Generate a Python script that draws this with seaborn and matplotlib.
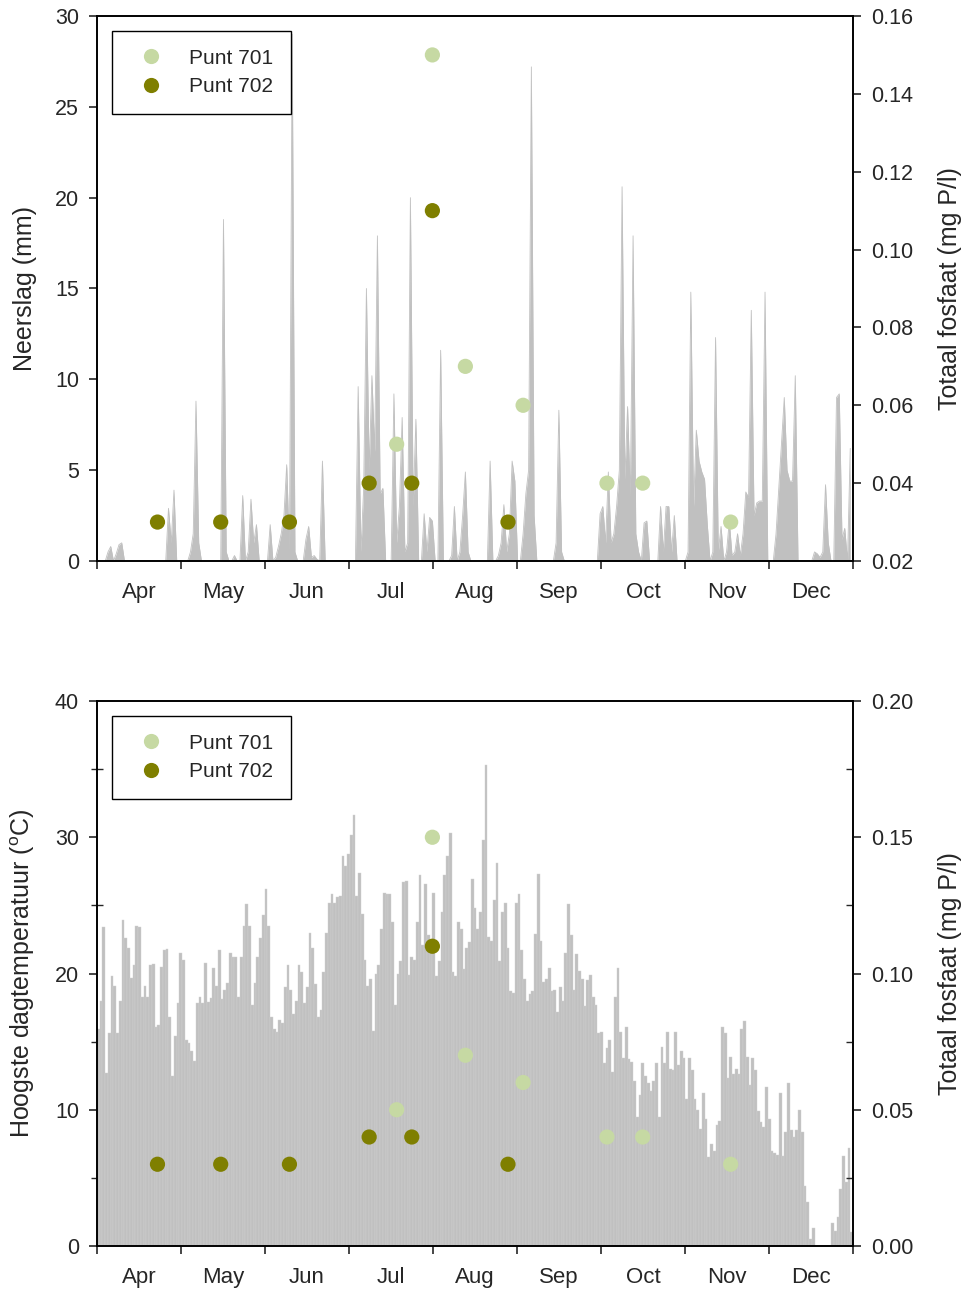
import numpy as np
import pandas as pd
import matplotlib
matplotlib.use("Agg")
import matplotlib.pyplot as plt
import seaborn as sns
from matplotlib.ticker import MultipleLocator, FixedLocator, FormatStrFormatter, NullFormatter

# ---------------- data ----------------
months = ["Apr", "May", "Jun", "Jul", "Aug", "Sep", "Oct", "Nov", "Dec"]

# daily precipitation (mm), 1 Apr .. 31 Dec (275 days)
neerslag = [
    0, 0, 0, 0, 0.5, 0.8, 0, 0.4, 0.9, 1.0,            # 0-9
    0, 0, 0, 0, 0, 0, 0, 0, 0, 0,                     # 10-19
    0, 0, 0, 0, 0, 0, 2.9, 1.0, 3.9, 0,               # 20-29
    0, 0, 0, 0, 0.5, 1.5, 8.8, 1.0, 0, 0,             # 30-39
    0, 0, 0, 0, 0, 0, 18.8, 0.5, 0, 0,                # 40-49
    0.3, 0, 0, 3.6, 0, 0.5, 3.4, 1.0, 2.0, 0,         # 50-59
    0, 0, 0, 2.0, 0, 0.2, 0.8, 1.5, 2.5, 5.3,         # 60-69
    0.5, 29.0, 0.5, 0, 0, 0, 1.2, 1.9, 0.2, 0.3,      # 70-79
    0.1, 0, 5.5, 0, 0, 0, 0, 0, 0, 0,                 # 80-89
    0, 0, 0, 0, 0, 9.6, 0.5, 4.0, 15.0, 5.0,          # 90-99
    10.2, 6.0, 17.9, 3.7, 4.0, 0, 0, 0, 9.2, 1.0,     # 100-109
    3.0, 7.9, 0.5, 1.0, 20.0, 3.0, 7.8, 0, 0, 2.6,    # 110-119
    0.5, 2.4, 2.2, 0, 0, 11.6, 0, 0, 0, 0.3,          # 120-129
    3.0, 0, 0.5, 2.5, 4.9, 0.5, 0, 0, 0, 0,           # 130-139
    0, 0, 0, 5.5, 0, 0, 0.3, 1.0, 3.1, 0.5,           # 140-149
    1.5, 5.5, 4.4, 0, 0, 1.5, 3.7, 5.0, 27.2, 2.5,    # 150-159
    0, 0, 0, 0, 0, 0, 0, 1.0, 8.3, 0.5,               # 160-169
    0, 0, 0, 0, 0, 0, 0, 0, 0, 0,                     # 170-179
    0, 0, 0, 2.6, 3.0, 1.0, 4.9, 1.0, 1.5, 3.0,       # 180-189
    5.0, 20.6, 4.5, 8.5, 3.5, 17.9, 1.5, 0.5, 0, 2.1, # 190-199
    2.2, 0, 0, 0, 0, 3.0, 0.5, 3.0, 3.0, 0.5,         # 200-209
    2.5, 0, 0, 0, 0, 0.5, 14.8, 3.0, 7.2, 5.5,        # 210-219
    4.9, 4.5, 2.0, 0, 0.5, 12.3, 0.5, 1.9, 0, 0.5,    # 220-229
    2.2, 0.3, 0.5, 1.5, 0.3, 1.5, 3.8, 3.5, 13.8, 2.5,# 230-239
    3.2, 3.3, 3.3, 14.8, 0, 0, 0, 1.5, 4.0, 6.5,      # 240-249
    9.0, 5.0, 4.4, 4.4, 10.2, 0, 0, 0, 0, 0,          # 250-259
    0, 0.5, 0.4, 0.2, 0.5, 4.2, 1.0, 0, 0, 9.0,       # 260-269
    9.2, 1.2, 1.8, 0, 6.2,                            # 270-274
]

# daily maximum temperature (deg C), 1 Apr .. 31 Dec
temperatuur = [
    15.9, 18.0, 23.4, 12.7, 15.6, 19.8, 19.1, 15.6, 18.0, 23.9,
    22.6, 21.9, 19.7, 20.6, 23.5, 23.4, 18.3, 19.1, 18.3, 20.6,
    20.7, 16.1, 16.2, 20.5, 21.7, 21.8, 16.8, 12.5, 15.4, 17.8,
    21.5, 21.0, 15.1, 14.9, 14.3, 13.6, 17.8, 18.3, 17.8, 20.8,
    17.9, 18.2, 20.4, 19.1, 21.7, 18.1, 18.8, 19.3, 21.5, 21.2,
    21.2, 18.3, 21.2, 23.5, 25.1, 23.5, 17.7, 19.3, 21.2, 22.6,
    24.3, 26.2, 23.5, 16.8, 15.9, 15.7, 16.6, 16.4, 19.0, 20.6,
    18.8, 17.0, 18.0, 20.6, 20.1, 17.8, 19.0, 23.0, 21.9, 19.2,
    16.8, 17.3, 20.1, 23.0, 25.2, 25.8, 25.2, 25.6, 25.7, 28.6,
    27.9, 28.8, 30.2, 31.6, 25.7, 27.4, 24.4, 21.0, 19.1, 19.6,
    15.8, 20.0, 20.6, 23.3, 25.9, 25.8, 25.8, 23.8, 17.7, 20.0,
    20.9, 26.7, 26.8, 19.9, 21.2, 21.0, 23.8, 27.2, 22.1, 26.6,
    22.8, 22.1, 25.9, 19.8, 20.9, 24.5, 27.2, 28.6, 30.3, 20.1,
    19.8, 23.8, 23.3, 20.3, 21.9, 22.3, 26.9, 24.8, 23.3, 24.5,
    29.8, 35.3, 22.7, 22.4, 25.4, 28.1, 20.9, 24.5, 25.2, 21.9,
    18.7, 18.6, 25.2, 25.8, 21.7, 19.6, 18.0, 18.5, 18.7, 22.9,
    27.3, 22.4, 19.4, 19.6, 20.4, 18.7, 18.8, 17.2, 19.0, 18.0,
    21.5, 25.1, 22.8, 18.8, 21.4, 20.2, 19.6, 17.6, 19.5, 19.9,
    18.3, 17.7, 15.6, 15.7, 13.4, 14.5, 15.1, 12.8, 18.3, 20.4,
    15.7, 13.8, 16.1, 13.7, 13.5, 12.1, 9.5, 11.1, 13.4, 12.5,
    12.0, 11.4, 12.1, 13.4, 9.5, 14.6, 13.4, 15.7, 13.0, 12.9,
    15.7, 13.3, 14.3, 13.8, 10.8, 13.8, 12.9, 10.8, 10.0, 8.6,
    11.2, 9.3, 6.5, 7.5, 7.0, 8.9, 9.2, 16.1, 15.6, 12.3,
    13.9, 12.6, 13.0, 12.6, 15.9, 16.5, 13.9, 11.8, 13.8, 12.9,
    9.9, 9.1, 8.7, 11.7, 9.3, 7.0, 6.8, 6.7, 11.2, 6.6,
    8.4, 12.0, 8.5, 8.0, 8.5, 10.0, 8.4, 4.4, 3.2, 0.5,
    1.3, 0, 0, 0, 0, 0, 0, 1.7, 1.1, 2.1,
    4.2, 6.6, 4.7, 7.2, 1.0,
]

# total phosphate (mg P/l) samples; day index counted from 1 April
dag_701 = [109, 122, 134, 155, 185.5, 198.5, 230.5]
fosfaat_701 = [0.05, 0.15, 0.07, 0.06, 0.04, 0.04, 0.03]
dag_702 = [22, 45, 70, 99, 114.5, 122, 149.5]
fosfaat_702 = [0.03, 0.03, 0.03, 0.04, 0.04, 0.11, 0.03]

# ---------------- styling ----------------
sns.set_theme(style="white")
plt.rcParams["font.family"] = ["Liberation Sans", "DejaVu Sans"]
plt.rcParams["mathtext.default"] = "regular"

GRAY = "#c0c0c0"
C701 = "#c6d9a3"
C702 = "#7f7f00"
TICK_FS = 15.5
LABEL_FS = 18
NDAYS = len(neerslag)
days = np.arange(NDAYS)

fig = plt.figure(figsize=(9.68, 12.89), dpi=100)
ax1 = fig.add_axes([97/968, 1-561/1289, 756/968, 545/1289])
ax2 = fig.add_axes([97/968, 1-1246/1289, 756/968, 545/1289])

df_n = pd.DataFrame({"dag": days, "neerslag": neerslag})
df_t = pd.DataFrame({"dag": days + 0.5, "temp": temperatuur})
df_701 = pd.DataFrame({"dag": dag_701, "fosfaat": fosfaat_701, "punt": "Punt 701"})
df_702 = pd.DataFrame({"dag": dag_702, "fosfaat": fosfaat_702, "punt": "Punt 702"})
df_p = pd.concat([df_701, df_702], ignore_index=True)

# --- top: precipitation area ---
sns.lineplot(data=df_n, x="dag", y="neerslag", ax=ax1, color=GRAY, linewidth=0.6)
ax1.fill_between(df_n["dag"], 0, df_n["neerslag"], color=GRAY, linewidth=0)

# --- bottom: temperature bars ---
sns.histplot(data=df_t, x="dag", weights="temp", bins=NDAYS, binrange=(0, NDAYS),
             ax=ax2, color=GRAY, edgecolor="#d2d2d2", linewidth=0.3, alpha=1.0)

month_edges = np.linspace(0, NDAYS, 10)
month_mids = (month_edges[:-1] + month_edges[1:]) / 2

def style_x(ax):
    ax.set_xlim(0, NDAYS)
    ax.xaxis.set_major_locator(FixedLocator(month_edges))
    ax.xaxis.set_major_formatter(NullFormatter())
    ax.set_xticks(month_mids, months, minor=True)
    ax.tick_params(axis="x", which="major", direction="out", length=6, width=1.2, bottom=True)
    ax.tick_params(axis="x", which="minor", length=0, labelsize=TICK_FS + 0.5, pad=15, bottom=True)
    ax.set_xlabel("")
    for s in ax.spines.values():
        s.set_visible(True)
        s.set_color("black")
        s.set_linewidth(1.2)

style_x(ax1)
style_x(ax2)

ax1.set_ylim(0, 30)
ax1.yaxis.set_major_locator(MultipleLocator(5))
ax1.set_ylabel("Neerslag (mm)", fontsize=LABEL_FS, labelpad=12.5)
ax1.tick_params(axis="y", which="major", direction="out", length=6, width=1.2,
                labelsize=TICK_FS, pad=7, left=True)

ax2.set_ylim(0, 40)
ax2.yaxis.set_major_locator(MultipleLocator(10))
ax2.yaxis.set_minor_locator(MultipleLocator(5))
ax2.set_ylabel("Hoogste dagtemperatuur ($^o$C)", fontsize=LABEL_FS, labelpad=12.5)
ax2.tick_params(axis="y", which="major", direction="out", length=6, width=1.2,
                labelsize=TICK_FS, pad=7, left=True)
ax2.tick_params(axis="y", which="minor", direction="inout", length=8, width=1.0, left=True)

# --- phosphate on twin axes ---
def phosphate(ax, ylim, major, minor, fmt, label):
    tw = ax.twinx()
    sns.scatterplot(data=df_p, x="dag", y="fosfaat", hue="punt",
                    palette={"Punt 701": C701, "Punt 702": C702},
                    s=120, edgecolor="none", linewidth=0, ax=tw, zorder=5)
    tw.set_ylim(*ylim)
    tw.set_xlim(0, NDAYS)
    tw.yaxis.set_major_locator(MultipleLocator(major))
    if minor:
        tw.yaxis.set_minor_locator(MultipleLocator(minor))
        tw.tick_params(axis="y", which="minor", direction="in", length=5, width=1.0, right=True)
    tw.yaxis.set_major_formatter(FormatStrFormatter(fmt))
    tw.tick_params(axis="y", which="major", direction="out", length=6, width=1.2,
                   labelsize=TICK_FS, pad=7, right=True)
    tw.set_ylabel(label, fontsize=LABEL_FS, labelpad=17.5)
    tw.set_xlabel("")
    for s in tw.spines.values():
        s.set_color("black")
        s.set_linewidth(1.2)
    leg = tw.legend(loc="upper left", bbox_to_anchor=(15/756, 1 - 15/545),
                    frameon=True, fancybox=False, fontsize=15, markerscale=1.0,
                    borderpad=0.85, handletextpad=0.8, labelspacing=0.45,
                    borderaxespad=0, title=None, handlelength=2.05)
    leg.get_frame().set_edgecolor("black")
    leg.get_frame().set_linewidth(1.0)
    leg.get_frame().set_alpha(1.0)
    return tw

phosphate(ax1, (0.02, 0.16), 0.02, None, "%.2f", "Totaal fosfaat (mg P/l)")
phosphate(ax2, (0.0, 0.20), 0.05, 0.025, "%.2f", "Totaal fosfaat (mg P/l)")

fig.savefig("out.png", dpi=100)
